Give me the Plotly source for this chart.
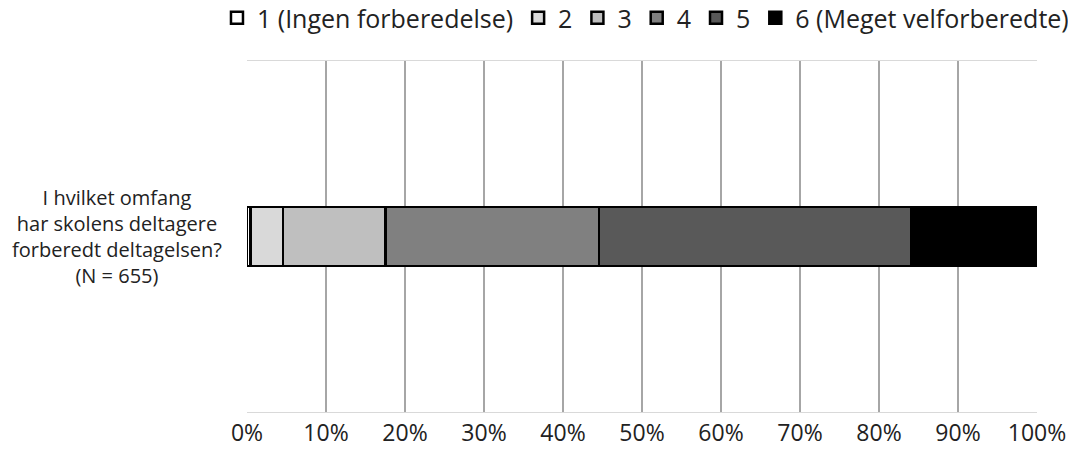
import plotly.graph_objects as go

# Andel af svar (%) pr. kategori, N = 655
categories = ["1 (Ingen forberedelse)", "2", "3", "4", "5", "6 (Meget velforberedte)"]
shares = [0.46, 4.12, 12.98, 27.02, 39.54, 15.88]
colors = ["#ffffff", "#d9d9d9", "#bfbfbf", "#808080", "#595959", "#000000"]
question = "I hvilket omfang<br>har skolens deltagere<br>forberedt deltagelsen?<br>(N = 655)"
tick_vals = list(range(0, 101, 10))
tick_text = [f"{v}%" for v in tick_vals]

fig = go.Figure()

for name, val, col in zip(categories, shares, colors):
    fig.add_trace(
        go.Bar(
            x=[val],
            y=["q"],
            name=name,
            orientation="h",
            width=0.168,
            marker=dict(color=col, line=dict(color="#000000", width=2.5)),
        )
    )

# question label, centred like the original category text
fig.add_annotation(
    text=question,
    xref="paper",
    yref="paper",
    x=-0.1646,
    y=0.5,
    xanchor="center",
    yanchor="middle",
    align="center",
    showarrow=False,
    font=dict(size=20, color="#222222"),
)

fig.update_layout(
    barmode="stack",
    width=1068,
    height=450,
    font=dict(family="Open Sans", size=23, color="#222222"),
    paper_bgcolor="white",
    plot_bgcolor="white",
    margin=dict(l=247, r=31, t=61, b=38, autoexpand=False),
    showlegend=True,
    legend=dict(
        orientation="h",
        x=-0.038,
        xanchor="left",
        y=1.1225,
        yanchor="middle",
        font=dict(size=25),
        traceorder="normal",
        itemwidth=30,
    ),
    xaxis=dict(
        range=[0, 100],
        tickvals=tick_vals,
        ticktext=tick_text,
        showgrid=True,
        gridcolor="#a6a6a6",
        gridwidth=1.5,
        zeroline=False,
        showline=True,
        linecolor="#d9d9d9",
        linewidth=1,
        mirror=True,
        ticks="",
        tickfont=dict(size=23),
    ),
    yaxis=dict(
        showticklabels=False,
        showgrid=False,
        zeroline=False,
        range=[-0.5, 0.5],
    ),
)

# drop the default 8px body margin so the figure fills the window exactly
fig.write_html(
    "out.html",
    config={"displayModeBar": False},
    post_script="document.body.style.margin = '0px';",
)
